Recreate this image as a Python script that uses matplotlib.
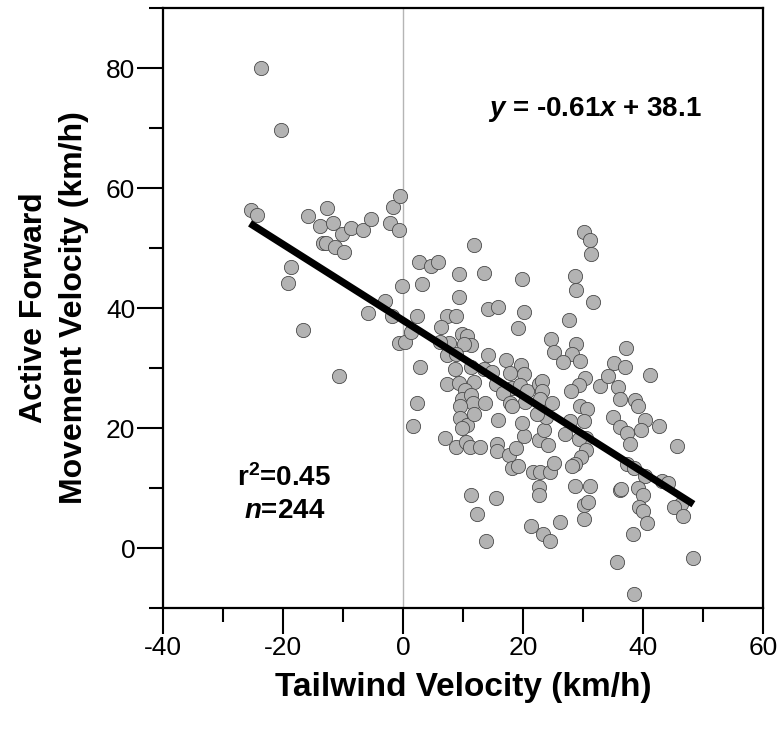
import matplotlib
matplotlib.use("Agg")
import matplotlib.pyplot as plt
from matplotlib.ticker import MultipleLocator

plt.rcParams['font.family'] = ['Liberation Sans', 'DejaVu Sans']
plt.rcParams['axes.unicode_minus'] = False
plt.rcParams['mathtext.fontset'] = 'custom'
plt.rcParams['mathtext.rm'] = 'Liberation Sans:bold'
plt.rcParams['mathtext.bf'] = 'Liberation Sans:bold'
plt.rcParams['mathtext.it'] = 'Liberation Sans:bold:italic'
plt.rcParams['mathtext.default'] = 'bf'

# tailwind velocity (km/h) vs active forward movement velocity (km/h)
tailwind = [
    # headwind side
    -23.7, -20.3, -25.4, -24.3, -15.8, -12.7, -13.8, -11.6, -10.2, -8.7, -6.7, -5.3,
    -13.4, -12.8, -11.3, -9.8, -1.6, -0.5, -2.2, -0.6, -18.7, -19.1, -16.7, -10.7,
    -5.9, -3.0, -1.8, -0.1, -0.6, 0.3, 1.4,
    # 0..26, upper block
    11.8, 2.6, 4.7, 5.9, 9.4, 13.5, 19.9, 3.2, 9.3, 14.1, 15.8, 20.1, 2.4, 7.4, 8.9,
    6.3, 19.1, 9.8, 10.7, 11.4, 10.1, 7.6, 6.1, 7.4, 8.9, 14.1, 17.2, 24.6, 25.1,
    2.9, 8.7, 11.4, 13.5, 14.8, 19.6, 17.8, 20.1, 7.3, 9.4, 11.8, 15.5, 18.1, 16.7,
    19.5, 20.6, 22.6, 23.1, 23.1, 10.3, 9.8, 11.4, 11.7, 13.7, 2.4, 17.8, 20.3, 22.8,
    24.8,
    # 0..26, lower block
    1.6, 7.0, 8.9, 9.5, 9.5, 10.6, 11.8, 9.9, 10.5, 11.1, 12.8, 15.9, 15.6, 15.7,
    17.6, 18.1, 19.2, 18.9, 20.1, 19.9, 18.1, 22.6, 23.5, 23.9, 24.2, 22.4, 21.7,
    22.9, 24.5, 25.2, 22.6, 22.6, 11.4, 15.5, 12.4, 13.8, 21.3, 23.3, 24.5, 26.1,
    # 26..50, upper block
    30.1, 31.1, 31.3, 28.7, 28.9, 31.6, 27.7, 28.8, 28.1, 29.5, 26.6, 37.2, 35.1,
    37.0, 41.1, 30.3, 29.4, 28.0, 32.8, 34.2, 35.9, 36.2, 38.7, 39.2, 29.5, 30.6,
    # 26..50, lower block
    27.8, 30.1, 27.0, 30.5, 29.4, 30.5, 29.6, 28.7, 28.1, 35.0, 36.2, 37.4, 37.8,
    40.3, 39.6, 42.7, 45.6, 37.4, 38.5, 40.3, 43.1, 44.1, 46.4, 45.2, 46.6, 28.7,
    31.2, 30.1, 30.9, 30.2, 36.2, 36.4, 39.2, 40.0, 39.4, 40.0, 40.7, 38.4, 35.6,
    48.3, 38.5,
]
forward = [
    80.0, 69.6, 56.3, 55.5, 55.4, 56.6, 53.7, 54.1, 52.3, 53.3, 53.0, 54.8,
    50.9, 50.9, 50.2, 49.4, 56.8, 58.6, 54.1, 53.0, 46.8, 44.2, 36.3, 28.7,
    39.2, 41.1, 38.7, 43.6, 34.1, 34.3, 36.0,
    50.5, 47.6, 47.0, 47.7, 45.6, 45.9, 44.8, 44.0, 41.9, 39.9, 40.2, 39.4, 38.7, 38.7, 38.7,
    36.8, 36.6, 35.7, 35.4, 33.9, 34.0, 34.1, 34.4, 32.2, 32.4, 32.2, 31.4, 34.8, 32.7,
    30.1, 29.8, 30.1, 29.8, 29.4, 30.5, 29.1, 29.0, 27.4, 27.5, 27.7, 27.3, 26.6, 25.9,
    27.2, 26.1, 27.4, 27.9, 26.1, 26.3, 24.9, 25.5, 24.1, 24.1, 24.1, 24.1, 24.4, 24.9,
    24.1,
    20.3, 18.3, 16.9, 23.6, 21.6, 20.5, 22.3, 20.0, 17.6, 16.8, 16.9, 21.4, 17.4, 16.1,
    15.5, 13.3, 13.6, 16.6, 18.6, 20.9, 23.7, 18.0, 19.7, 21.9, 17.2, 22.4, 12.7,
    12.7, 12.7, 14.1, 10.2, 8.8, 8.8, 8.4, 5.7, 1.1, 3.6, 2.4, 1.2, 4.4,
    52.6, 51.4, 49.0, 45.3, 43.0, 41.0, 38.0, 34.0, 32.3, 31.2, 31.0, 33.4, 30.9,
    30.1, 28.9, 28.4, 27.2, 26.1, 27.0, 28.6, 26.9, 24.8, 24.7, 23.6, 23.6, 23.1,
    21.1, 21.2, 19.0, 18.4, 18.1, 16.3, 15.1, 14.0, 13.6, 21.8, 20.2, 19.2, 17.3,
    21.3, 19.6, 20.3, 17.0, 14.0, 13.3, 12.0, 11.1, 10.8, 7.4, 6.8, 5.3, 10.3,
    10.3, 7.2, 7.7, 4.8, 9.7, 9.8, 10.0, 8.8, 6.9, 6.1, 4.1, 2.3, -2.4,
    -1.6, -7.6,
]

# regression line as drawn (ends)
fit_x = [-25.5, 48.4]
fit_y = [54.1, 7.3]

fig = plt.figure(figsize=(7.82, 7.33), dpi=100)
ax = fig.add_axes([163 / 782, 125 / 733, 600 / 782, 600 / 733])

ax.axvline(0, color='#b5b5b5', lw=1.0, zorder=1)
ax.scatter(tailwind, forward, s=105, c='#b3b3b3', edgecolors='#4a4a4a',
           linewidths=0.6, zorder=2)
ax.plot(fit_x, fit_y, color='black', lw=5.2, solid_capstyle='butt', zorder=3)

ax.set_xlim(-40, 60)
ax.set_ylim(-10, 90)
ax.xaxis.set_major_locator(MultipleLocator(20))
ax.xaxis.set_minor_locator(MultipleLocator(10))
ax.yaxis.set_minor_locator(MultipleLocator(10))
ax.set_yticks([0, 20, 40, 60, 80])
ax.tick_params(which='major', direction='out', length=19, width=1.5,
               labelsize=19, pad=1)
ax.tick_params(which='minor', direction='out', length=10, width=1.5)
for sp in ax.spines.values():
    sp.set_linewidth(1.6)

ax.set_xlabel('Tailwind Velocity (km/h)', fontsize=24, fontweight='bold', labelpad=9)
ax.set_ylabel('Active Forward\nMovement Velocity (km/h)', fontsize=23,
              fontweight='bold', labelpad=12, linespacing=1.45)

ax.text(32, 73.0, '$\\mathit{y}$ = -0.61$\\mathit{x}$ + 38.1', fontsize=20,
        fontweight='bold', ha='center', va='center')
ax.text(-19.8, 11.6, 'r$^{2}$=0.45', fontsize=20, fontweight='bold',
        ha='center', va='center')
ax.text(-19.8, 6.1, '$\\mathit{n}$=244', fontsize=20, fontweight='bold',
        ha='center', va='center')

fig.savefig('out.png', dpi=100)
